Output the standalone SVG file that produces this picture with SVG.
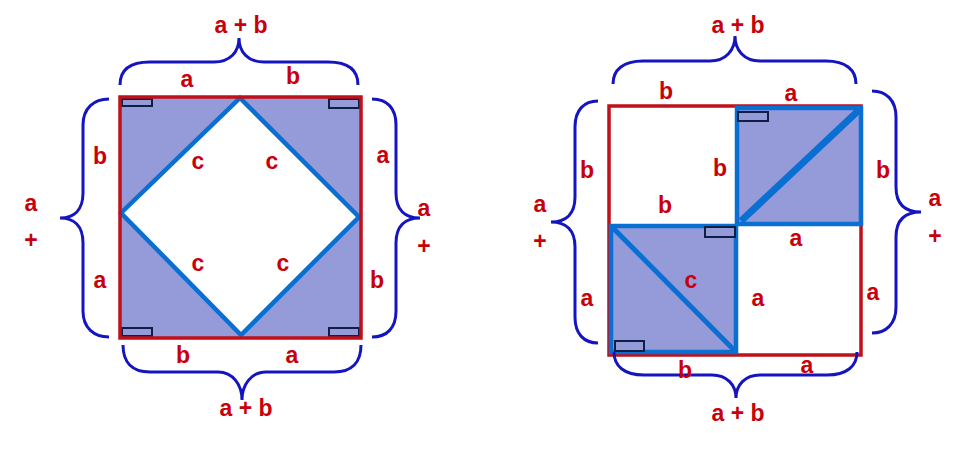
<svg xmlns="http://www.w3.org/2000/svg" width="978" height="463" viewBox="0 0 978 463">
<style>
.t{font-family:"Liberation Sans",Arial,sans-serif;font-weight:bold;font-size:23px;fill:#c8000a;text-anchor:middle}
.br{fill:none;stroke:#1414c0;stroke-width:3}
.red{fill:none;stroke:#c0101a;stroke-width:3.5}
.blue{stroke:#0a6fd2;stroke-width:4.5}
.lav{fill:#959bd8}
.mk{fill:#959bd8;stroke:#0d1f45;stroke-width:2}
</style>
<rect width="978" height="463" fill="#ffffff"/>

<g id="left-square">
  <rect x="120" y="97" width="241" height="241" class="lav"/>
  <polygon points="240,98 359,217 241,335 121,213" fill="#ffffff" class="blue" stroke-linejoin="miter"/>
  <rect x="122" y="99" width="30" height="7" class="mk"/>
  <rect x="329" y="99" width="30" height="9" class="mk"/>
  <rect x="122" y="328" width="30" height="8" class="mk"/>
  <rect x="329" y="328" width="30" height="8" class="mk"/>
  <rect x="120" y="97" width="241" height="241" class="red"/>
</g>

<g id="right-square">
  <rect x="609" y="106" width="252" height="249" fill="#ffffff" class="red"/>
  <rect x="737" y="108" width="124" height="116" class="lav blue"/>
  <line x1="741" y1="221" x2="859" y2="110" stroke="#0a6fd2" stroke-width="7"/>
  <rect x="611" y="226" width="125" height="126" class="lav blue"/>
  <line x1="613" y1="228" x2="734" y2="350" stroke="#0a6fd2" stroke-width="5"/>
  <rect x="738" y="112" width="30" height="9" class="mk"/>
  <rect x="705" y="227" width="30" height="10" class="mk"/>
  <rect x="615" y="341" width="29" height="10" class="mk"/>
</g>

<g id="connectors">
  <path class="br" d="M120,85 C120,70 130,62 150,62 L214,62 C230,62 239,52 239,38 C239,52 248,62 264,62 L328,62 C348,62 358,70 358,85"/>
  <path class="br" d="M109,99 C94,99 83,108 83,125 L83,193 C83,210 74,218 60,218 C74,218 83,226 83,243 L83,311 C83,328 94,337 109,337"/>
  <path class="br" d="M372,99 C387,99 396,108 396,125 L396,193 C396,210 405,218 420,218 C405,218 396,226 396,243 L396,311 C396,328 387,337 372,337"/>
  <path class="br" d="M123,345 C123,362 132,372 150,372 L218,372 C233,372 242,385 242,400 C242,385 251,372 266,372 L334,372 C352,372 361,362 361,345"/>
  <path class="br" d="M613,84 C613,70 623,61 643,61 L710,61 C726,61 735,50 735,36 C735,50 744,61 760,61 L826,61 C846,61 856,70 856,84"/>
  <path class="br" d="M598,101 C584,101 575,110 575,127 L575,197 C575,214 566,222 551,222 C566,222 575,230 575,247 L575,317 C575,334 584,343 598,343"/>
  <path class="br" d="M872,91 C886,91 896,100 896,117 L896,187 C896,204 905,212 921,212 C905,212 896,220 896,237 L896,307 C896,324 886,333 872,333"/>
  <path class="br" d="M614,352 C614,366 624,375 644,375 L712,375 C727,375 736,385 736,398 C736,385 745,375 760,375 L827,375 C847,375 857,366 857,352"/>
</g>

<g id="left-labels">
  <text class="t" x="241" y="33">a + b</text>
  <text class="t" x="187" y="87">a</text>
  <text class="t" x="293" y="84">b</text>
  <text class="t" x="100" y="164">b</text>
  <text class="t" x="100" y="288">a</text>
  <text class="t" x="31" y="211">a</text>
  <text class="t" x="31" y="248">+</text>
  <text class="t" x="198" y="169">c</text>
  <text class="t" x="272" y="169">c</text>
  <text class="t" x="198" y="271">c</text>
  <text class="t" x="283" y="271">c</text>
  <text class="t" x="383" y="163">a</text>
  <text class="t" x="377" y="288">b</text>
  <text class="t" x="424" y="216">a</text>
  <text class="t" x="424" y="254">+</text>
  <text class="t" x="183" y="363">b</text>
  <text class="t" x="292" y="363">a</text>
  <text class="t" x="246" y="416">a + b</text>
</g>

<g id="right-labels">
  <text class="t" x="738" y="33">a + b</text>
  <text class="t" x="666" y="99">b</text>
  <text class="t" x="791" y="101">a</text>
  <text class="t" x="587" y="178">b</text>
  <text class="t" x="540" y="212">a</text>
  <text class="t" x="540" y="249">+</text>
  <text class="t" x="587" y="306">a</text>
  <text class="t" x="720" y="176">b</text>
  <text class="t" x="665" y="213">b</text>
  <text class="t" x="796" y="246">a</text>
  <text class="t" x="691" y="288">c</text>
  <text class="t" x="758" y="306">a</text>
  <text class="t" x="883" y="178">b</text>
  <text class="t" x="873" y="300">a</text>
  <text class="t" x="935" y="206">a</text>
  <text class="t" x="935" y="244">+</text>
  <text class="t" x="685" y="378">b</text>
  <text class="t" x="807" y="373">a</text>
  <text class="t" x="738" y="421">a + b</text>
</g>
</svg>
